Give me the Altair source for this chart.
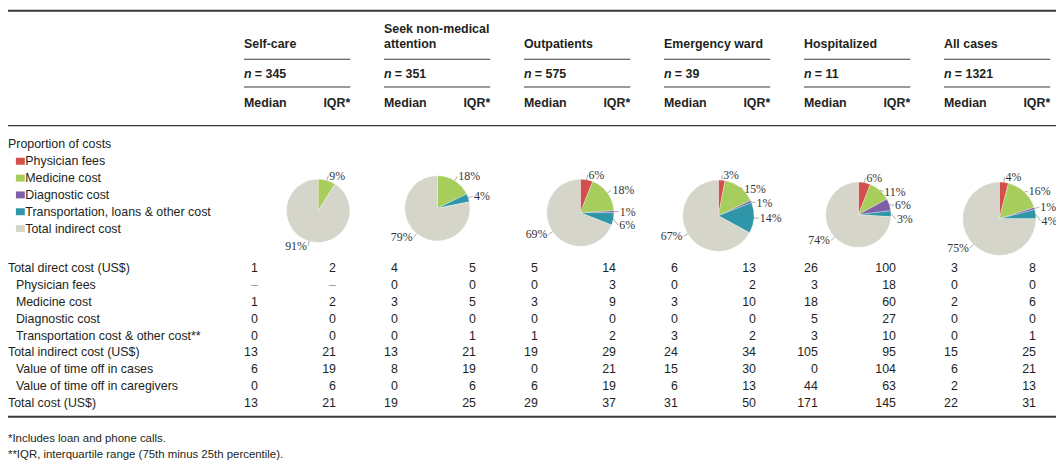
import math
import altair as alt
import pandas as pd

# ---------------- data ----------------
GROUP_TITLES = [["Self-care"], ["Seek non-medical", "attention"], ["Outpatients"],
                ["Emergency ward"], ["Hospitalized"], ["All cases"]]
GROUP_N = ["345", "351", "575", "39", "11", "1321"]

ROW_LABELS = ["Total direct cost (US$)", "Physician fees", "Medicine cost", "Diagnostic cost",
              "Transportation cost & other cost**", "Total indirect cost (US$)",
              "Value of time off in cases", "Value of time off in caregivers", "Total cost (US$)"]
ROW_LEVEL = [0, 1, 1, 1, 1, 0, 1, 1, 0]

MEDIAN = [
    ["1", "–", "1", "0", "0", "13", "6", "0", "13"],
    ["4", "0", "3", "0", "0", "13", "8", "0", "19"],
    ["5", "0", "3", "0", "1", "19", "0", "6", "29"],
    ["6", "0", "3", "0", "3", "24", "15", "6", "31"],
    ["26", "3", "18", "5", "3", "105", "0", "44", "171"],
    ["3", "0", "2", "0", "0", "15", "6", "2", "22"],
]
IQR = [
    ["2", "–", "2", "0", "0", "21", "19", "6", "21"],
    ["5", "0", "5", "0", "1", "21", "19", "6", "25"],
    ["14", "3", "9", "0", "2", "29", "21", "19", "37"],
    ["13", "2", "10", "0", "2", "34", "30", "13", "50"],
    ["100", "18", "60", "27", "10", "95", "104", "63", "145"],
    ["8", "0", "6", "0", "1", "25", "21", "13", "31"],
]

COST_CATS = ["Physician fees", "Medicine cost", "Diagnostic cost",
             "Transportation, loans & other cost", "Total indirect cost"]
COST_COLORS = ["#d24f4b", "#a7cd5c", "#7e60a8", "#2f96a9", "#d5d5ca"]
SHARES = [
    [0, 9, 0, 0, 91],
    [0, 18, 0, 4, 79],
    [6, 18, 1, 6, 69],
    [3, 15, 1, 14, 67],
    [6, 11, 6, 3, 74],
    [4, 16, 1, 4, 75],
]
LEGEND_TITLE = "Proportion of costs"
FOOTNOTES = ["*Includes loan and phone calls.",
             "**IQR, interquartile range (75th minus 25th percentile)."]

# ---------------- layout (reference pixel space) ----------------
REF_W, REF_H = 1064, 469
W, H = 1056, 461
X_RANGE = [-4, W]
Y_RANGE = [-7, H]
SX = (X_RANGE[1] - X_RANGE[0]) / REF_W

GROUP_X0, GROUP_DX, GROUP_SPAN = 242.7, 141.6, 107.5
MED_RIGHT, IQR_RIGHT = 14.0, 93.0
TOP_RULE_Y, HDR_RULE_Y, BOT_RULE_Y = 8, 124, 418
TITLE_Y = 42
TITLE_LINE = 16
UL1_Y, N_Y, UL2_Y, MED_Y = 57, 72, 85, 101
ROW_Y0, ROW_DY = 268, 17
ROW_X = [4, 12]
LEG_TITLE_Y, LEG_Y0, LEG_DY = 143, 160, 17
FOOT_Y = [440, 457]
PIE_DX = [75, 54, 57, 55, 55, 56]
PIE_CY = [210, 207.5, 212, 215, 214, 218]
PIE_R = [32, 33, 34, 36, 33, 37]
LAB_GAP, LAB_SEP = 5, 14

SANS = "Liberation Sans"
SERIF = "Liberation Serif"
FS = 12.5
INK = "#231f20"
DASH_INK = "#9a9a9a"


def gx(g):
    return GROUP_X0 + g * GROUP_DX


XS = alt.Scale(domain=[0, REF_W], range=X_RANGE, nice=False, zero=False)
YS = alt.Scale(domain=[0, REF_H], range=Y_RANGE, nice=False, zero=False)
CS = alt.Scale(domain=COST_CATS, range=COST_COLORS)


def X(f):
    return alt.X(f, type="quantitative", scale=XS, axis=None)


def Y(f):
    return alt.Y(f, type="quantitative", scale=YS, axis=None)


def text_layer(rows, align="left", weight="normal", style="normal", size=FS, font=SANS, color=INK):
    return alt.Chart(pd.DataFrame(rows)).mark_text(
        align=align, baseline="middle", font=font, fontSize=size,
        fontWeight=weight, fontStyle=style
    ).encode(
        x=X("x"), y=Y("y"), text="text:N",
        color=alt.condition(alt.datum.text == "–", alt.value(DASH_INK), alt.value(color)),
    )


# ---------------- rules ----------------
rules = [dict(x=0, x2=REF_W, y=TOP_RULE_Y, w=2.0),
         dict(x=0, x2=REF_W, y=HDR_RULE_Y, w=1.3),
         dict(x=0, x2=REF_W, y=BOT_RULE_Y, w=2.0)]
for g in range(len(GROUP_TITLES)):
    for yy in (UL1_Y, UL2_Y):
        rules.append(dict(x=gx(g), x2=gx(g) + GROUP_SPAN, y=yy, w=1.2))
rule_layer = alt.Chart(pd.DataFrame(rules)).mark_rule(color="#3a3a3a").encode(
    x=X("x"), x2="x2:Q", y=Y("y"), strokeWidth=alt.StrokeWidth("w:Q", scale=None))

# ---------------- header ----------------
titles, n_it, n_rest, med_h, iqr_h = [], [], [], [], []
for g, lines in enumerate(GROUP_TITLES):
    for i, line in enumerate(lines):
        titles.append(dict(x=gx(g), y=TITLE_Y - (len(lines) - 1 - i) * TITLE_LINE, text=line))
    n_it.append(dict(x=gx(g), y=N_Y, text="n"))
    n_rest.append(dict(x=gx(g) + 11, y=N_Y, text="= " + GROUP_N[g]))
    med_h.append(dict(x=gx(g), y=MED_Y, text="Median"))
    iqr_h.append(dict(x=gx(g) + GROUP_SPAN, y=MED_Y, text="IQR*"))

# ---------------- body ----------------
labels, meds, iqrs = [], [], []
for r, lab in enumerate(ROW_LABELS):
    y = ROW_Y0 + r * ROW_DY
    labels.append(dict(x=ROW_X[ROW_LEVEL[r]], y=y, text=lab))
    for g in range(len(GROUP_TITLES)):
        meds.append(dict(x=gx(g) + MED_RIGHT, y=y, text=MEDIAN[g][r]))
        iqrs.append(dict(x=gx(g) + IQR_RIGHT, y=y, text=IQR[g][r]))

# ---------------- legend ----------------
leg_rects, leg_text = [], []
for k, c in enumerate(COST_CATS):
    y = LEG_Y0 + k * LEG_DY
    leg_rects.append(dict(x=12, x2=21, y=y - 3.5, y2=y + 3.5, cat=c))
    leg_text.append(dict(x=21.5, y=y, text=c))
leg_rect_layer = alt.Chart(pd.DataFrame(leg_rects)).mark_rect().encode(
    x=X("x"), x2="x2:Q", y=Y("y"), y2="y2:Q",
    color=alt.Color("cat:N", scale=CS, legend=None))

# ---------------- pies ----------------
arcs, lab_r, lab_l, leads = [], [], [], []
for g, shares in enumerate(SHARES):
    cx, cy, r = gx(g) + PIE_DX[g], PIE_CY[g], PIE_R[g]
    tot = float(sum(shares))
    acc = 0.0
    sides = {"R": [], "L": []}
    for k, v in enumerate(shares):
        if v == 0:
            continue
        f0, f1 = acc / tot, (acc + v) / tot
        acc += v
        arcs.append(dict(cx=cx, cy=cy, r=r * SX, t0=f0 * 2 * math.pi, t1=f1 * 2 * math.pi,
                         cat=COST_CATS[k]))
        a = (f0 + f1) * math.pi
        dx, dy = math.sin(a), -math.cos(a)
        sides["R" if dx >= 0 else "L"].append(dict(dx=dx, dy=dy, text=f"{v}%"))
    for side, items in sides.items():
        items.sort(key=lambda it: it["dy"])
        prev = -1e9
        for it in items:
            lx = cx + (r + LAB_GAP) * it["dx"]
            ly = max(cy + (r + LAB_GAP) * it["dy"], prev + LAB_SEP)
            prev = ly
            leads.append(dict(x=cx + r * it["dx"], y=cy + r * it["dy"], x2=lx, y2=ly))
            if side == "R":
                lab_r.append(dict(x=lx + 1, y=ly, text=it["text"]))
            else:
                lab_l.append(dict(x=lx - 1, y=ly, text=it["text"]))

arc_layer = alt.Chart(pd.DataFrame(arcs)).mark_arc(stroke="white", strokeWidth=0.3).encode(
    x=X("cx"), y=Y("cy"),
    theta=alt.Theta("t0:Q", scale=None, stack=False), theta2=alt.Theta2("t1:Q"),
    radius=alt.Radius("r:Q", scale=None),
    color=alt.Color("cat:N", scale=CS, legend=None))
lead_layer = alt.Chart(pd.DataFrame(leads)).mark_rule(color="#8a8a8a", strokeWidth=0.7).encode(
    x=X("x"), y=Y("y"), x2="x2:Q", y2="y2:Q")

chart = alt.layer(
    rule_layer,
    text_layer(titles, weight="bold"),
    text_layer(n_it, weight="bold", style="italic"),
    text_layer(n_rest, weight="bold"),
    text_layer(med_h, weight="bold"),
    text_layer(iqr_h, align="right", weight="bold"),
    text_layer(labels),
    text_layer(meds, align="right"),
    text_layer(iqrs, align="right"),
    text_layer([dict(x=4, y=LEG_TITLE_Y, text=LEGEND_TITLE)]),
    leg_rect_layer,
    text_layer(leg_text),
    arc_layer,
    lead_layer,
    text_layer(lab_r, font=SERIF, size=12, color="#333333"),
    text_layer(lab_l, align="right", font=SERIF, size=12, color="#333333"),
    text_layer([dict(x=4, y=FOOT_Y[i], text=t) for i, t in enumerate(FOOTNOTES)], size=11.5),
).properties(
    width=W, height=H, padding=0, autosize=alt.AutoSizeParams(type="none")
).configure_view(stroke=None)

chart.save("out.html", embed_options={"renderer": "svg", "actions": False})
